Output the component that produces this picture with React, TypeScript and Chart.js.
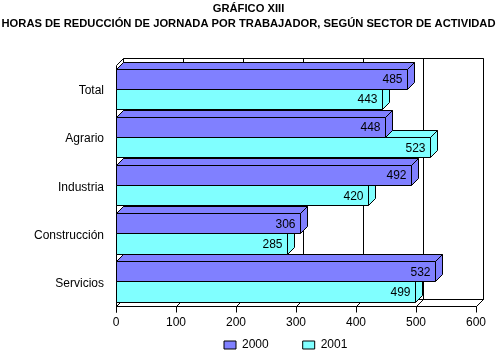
import React, { useEffect, useRef } from 'react';
import { Chart, registerables } from 'chart.js';

Chart.register(...registerables);

const categories = ['Total', 'Agrario', 'Industria', 'Construcción', 'Servicios'];
const series2000 = [485, 448, 492, 306, 532];
const series2001 = [443, 523, 420, 285, 499];
const seriesNames = ['2000', '2001'];
const seriesColors = ['#8080FF', '#80FFFF'];
const xMin = 0;
const xMax = 600;
const xStep = 100;
const titleLines = [
  'GRÁFICO XIII',
  'HORAS DE REDUCCIÓN DE JORNADA POR TRABAJADOR, SEGÚN SECTOR DE ACTIVIDAD',
];

const FONT = '"Liberation Sans", Arial, sans-serif';
const DEPTH = 7;

const px = (v: number) => Math.round(v) + 0.5;

const bars3d = {
  id: 'bars3d',
  afterLayout(chart: any) {
    const lg = chart.legend;
    if (lg && lg.lineWidths) {
      const p = lg.options.labels.padding;
      const W = lg.lineWidths[0];
      const startX = 224;
      lg.left = startX - p - 60;
      lg.right = startX + W + 60;
      lg.width = lg.right - lg.left;
      lg.top = 345 - p - 6;
      lg.bottom = 354;
      lg.height = lg.bottom - lg.top;
    }
    const tb = chart.titleBlock;
    if (tb) {
      tb.left = 0;
      tb.right = 497;
      tb.width = 497;
    }
  },
  beforeDatasetsDraw(chart: any) {
    const { ctx, chartArea } = chart;
    const { left, right, top, bottom } = chartArea;
    const xs = chart.scales.x;
    const d = DEPTH;
    const L = px(left), R = px(right), T = px(top), B = px(bottom);
    ctx.save();
    ctx.strokeStyle = '#000';
    ctx.lineWidth = 1;
    const line = (x1: number, y1: number, x2: number, y2: number) => {
      ctx.beginPath();
      ctx.moveTo(x1, y1);
      ctx.lineTo(x2, y2);
      ctx.stroke();
    };
    // back wall
    ctx.fillStyle = '#fff';
    ctx.fillRect(L + d, T - d, R - L, B - T);
    line(L + d, T - d, R + d, T - d);
    line(R + d, T - d, R + d, B - d);
    line(L + d, B - d, R + d, B - d);
    // left wall edges
    line(L, T, L + d, T - d);
    line(L, T, L, B + 6);
    // floor
    line(L, B, R, B);
    line(R, B, R + d, B - d);
    const ticks = xs.ticks;
    ticks.forEach((t: any) => {
      const x = px(xs.getPixelForValue(t.value));
      line(x + d, T - d, x + d, B - d);
      line(x, B, x + d, B - d);
      line(x, B, x, B + 6);
    });

    // bars: painter's order, bottom-most first
    const items: any[] = [];
    chart.data.datasets.forEach((ds: any, di: number) => {
      const meta = chart.getDatasetMeta(di);
      meta.data.forEach((el: any, i: number) => {
        items.push({ el, color: ds.backgroundColor, value: ds.data[i] });
      });
    });
    items.sort((a, b) => b.el.y - a.el.y);
    items.forEach(({ el, color, value }) => {
      const x0 = px(el.base);
      const x1 = px(el.x);
      const y0 = px(el.y - el.height / 2);
      const y1 = px(el.y + el.height / 2);
      ctx.fillStyle = color;
      // top face
      ctx.beginPath();
      ctx.moveTo(x0, y0);
      ctx.lineTo(x0 + d, y0 - d);
      ctx.lineTo(x1 + d, y0 - d);
      ctx.lineTo(x1, y0);
      ctx.closePath();
      ctx.fill();
      ctx.stroke();
      // side face
      ctx.beginPath();
      ctx.moveTo(x1, y0);
      ctx.lineTo(x1 + d, y0 - d);
      ctx.lineTo(x1 + d, y1 - d);
      ctx.lineTo(x1, y1);
      ctx.closePath();
      ctx.fill();
      ctx.stroke();
      // front face
      ctx.beginPath();
      ctx.rect(x0, y0, x1 - x0, y1 - y0);
      ctx.fill();
      ctx.stroke();
      // value label
      ctx.fillStyle = '#000';
      ctx.font = '12px ' + FONT;
      ctx.textAlign = 'right';
      ctx.textBaseline = 'middle';
      ctx.fillText(String(value), x1 - 5, el.y + 1);
    });
    ctx.restore();
    return false;
  },
};

export default function App() {
  const ref = useRef<HTMLCanvasElement | null>(null);
  useEffect(() => {
    if (!ref.current) return;
    Chart.defaults.color = '#000';
    Chart.defaults.font.family = FONT;
    const chart = new Chart(ref.current, {
      type: 'bar',
      data: {
        labels: categories,
        datasets: [
          {
            label: seriesNames[0],
            data: series2000,
            backgroundColor: seriesColors[0],
            borderColor: '#000',
            borderWidth: 1,
            categoryPercentage: 0.84,
            barPercentage: 1,
          },
          {
            label: seriesNames[1],
            data: series2001,
            backgroundColor: seriesColors[1],
            borderColor: '#000',
            borderWidth: 1,
            categoryPercentage: 0.84,
            barPercentage: 1,
          },
        ],
      },
      options: {
        indexAxis: 'y',
        responsive: false,
        animation: false,
        devicePixelRatio: 1,
        layout: { padding: { left: 0, right: 22, top: 0, bottom: 0 } },
        scales: {
          x: {
            type: 'linear',
            min: xMin,
            max: xMax,
            ticks: { stepSize: xStep, font: { size: 12, family: FONT }, padding: 10, color: '#000' },
            grid: { display: false, drawTicks: false },
            border: { display: false },
            afterFit: (s: any) => { s.height = 28.5; },
          },
          y: {
            type: 'category',
            ticks: { font: { size: 12, family: FONT }, padding: 12, color: '#000', labelOffset: 2 },
            grid: { display: false, drawTicks: false },
            border: { display: false },
            afterFit: (s: any) => { s.width = 116; },
          },
        },
        plugins: {
          title: {
            display: true,
            text: titleLines,
            font: { size: 11.2, weight: 'bold', family: FONT, lineHeight: '15.5px' },
            padding: { top: 1, bottom: 33 },
            color: '#000',
          },
          legend: {
            display: true,
            position: 'bottom',
            maxHeight: 20,
            labels: {
              boxWidth: 12,
              boxHeight: 8,
              padding: 34,
              font: { size: 12, family: FONT },
              color: '#000',
            },
          },
          tooltip: { enabled: false },
        },
      },
      plugins: [bars3d],
    } as any);
    return () => chart.destroy();
  }, []);
  return (
    <div style={{ position: 'absolute', left: 0, top: 0, width: 498, height: 354, background: '#fff' }}>
      <canvas ref={ref} width={498} height={354} />
    </div>
  );
}
